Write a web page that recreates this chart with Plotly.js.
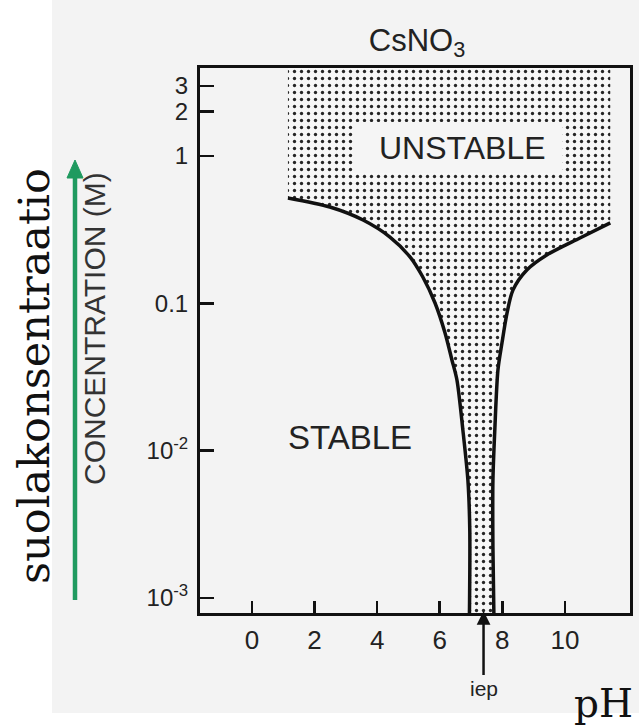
<!DOCTYPE html>
<html>
<head>
<meta charset="utf-8">
<script src="https://cdn.plot.ly/plotly-3.0.1.min.js"></script>
<style>html,body{margin:0;padding:0;background:#fff;}#chart{width:639px;height:725px;}</style>
</head>
<body>
<div id="chart"></div>
<script>
// ---- data ----
const pHLeft   = [1.15, 2.49, 3.55, 4.41, 5.05, 5.46, 5.85, 6.17, 6.39, 6.55, 6.74, 6.9, 6.96, 6.95];
const concLeft = [0.52, 0.451, 0.368, 0.282, 0.207, 0.151, 0.1006, 0.063, 0.0413, 0.0302, 0.0138, 0.0063, 0.0029, 0.00079];
const pHRight   = [7.73, 7.7, 7.7, 7.76, 7.86, 7.99, 8.15, 8.34, 8.79, 9.42, 10.48, 11.45];
const concRight = [0.00079, 0.0022, 0.0063, 0.0138, 0.0353, 0.054, 0.086, 0.123, 0.169, 0.213, 0.278, 0.352];
const concTop = 3.96;
const xTickVals = [0, 2, 4, 6, 8, 10];
const yTickVals = [0.001, 0.01, 0.1, 1, 2, 3];
const yTickText = ['10<sup>-3</sup>', '10<sup>-2</sup>', '0.1', '1', '2', '3'];
const iepPH = 7.4;

// ---- layout helpers (pixel -> paper) ----
const L = 200, R = 630, T = 68, B = 613;
const xp = px => (px - L) / (R - L);
const yp = py => (B - py) / (B - T);

const fillX = [pHLeft[0]].concat(pHLeft, pHRight, [pHRight[pHRight.length - 1], pHLeft[0]]);
const fillY = [concTop].concat(concLeft, concRight, [concTop, concTop]);

const traces = [
  {
    x: fillX, y: fillY, mode: 'lines', fill: 'toself',
    line: {width: 0},
    fillcolor: 'rgba(0,0,0,0)',
    fillpattern: {shape: '.', size: 7, solidity: 0.18, fgcolor: '#262626', bgcolor: '#f7f7f7'},
    hoverinfo: 'skip', showlegend: false
  },
  {
    x: pHLeft, y: concLeft, mode: 'lines',
    line: {color: '#111', width: 3.5, shape: 'spline', smoothing: 0.8},
    showlegend: false
  },
  {
    x: pHRight, y: concRight, mode: 'lines',
    line: {color: '#111', width: 3.5, shape: 'spline', smoothing: 0.8},
    showlegend: false
  }
];

const sans = 'Liberation Sans, Arial, sans-serif';

const layout = {
  width: 639, height: 725,
  margin: {l: L, r: 639 - R, t: T, b: 725 - B, pad: 0},
  paper_bgcolor: '#ffffff',
  plot_bgcolor: 'rgba(0,0,0,0)',
  showlegend: false,
  title: {
    text: 'CsNO<sub>3</sub>',
    font: {family: sans, size: 31, color: '#222'},
    xref: 'paper', x: xp(417), xanchor: 'center',
    yref: 'container', y: 1 - 40 / 725, yanchor: 'middle'
  },
  xaxis: {
    range: [-1.66, 12.08], tickvals: xTickVals, ticks: 'inside', ticklen: 12, tickwidth: 2.5,
    tickcolor: '#111', showline: true, linewidth: 3, linecolor: '#111', mirror: true,
    showgrid: false, zeroline: false, tickfont: {family: sans, size: 26, color: '#222'},
    ticklabelstandoff: 2
  },
  yaxis: {
    type: 'log', range: [-3.102, 0.598], tickvals: yTickVals, ticktext: yTickText,
    ticks: 'inside', ticklen: 14, tickwidth: 2.5, tickcolor: '#111',
    showline: true, linewidth: 3, linecolor: '#111', mirror: true,
    showgrid: false, zeroline: false,
    tickfont: {family: sans, size: 24, color: '#222'},
    ticklabelstandoff: 4
  },
  shapes: [
    {type: 'rect', xref: 'paper', yref: 'paper', x0: xp(52), x1: xp(639), y0: yp(713), y1: yp(0),
     fillcolor: '#f3f3f3', line: {width: 0}, layer: 'below'},
    {type: 'rect', xref: 'paper', yref: 'paper', x0: xp(353), x1: xp(562), y0: yp(173), y1: yp(122),
     fillcolor: '#f5f5f5', line: {width: 0}, layer: 'above'},
    {type: 'line', xref: 'paper', yref: 'paper', x0: xp(75), x1: xp(75), y0: yp(600), y1: yp(174),
     line: {color: '#1f9a5f', width: 4.5}},
    {type: 'path', xref: 'paper', yref: 'paper',
     path: 'M' + xp(75) + ',' + yp(160) + ' L' + xp(67) + ',' + yp(178) + ' L' + xp(83) + ',' + yp(178) + ' Z',
     fillcolor: '#1f9a5f', line: {color: '#1f9a5f', width: 1}}
  ],
  annotations: [
    {text: 'UNSTABLE', xref: 'paper', yref: 'paper', x: xp(462), y: yp(148),
     xanchor: 'center', yanchor: 'middle', showarrow: false,
     font: {family: sans, size: 32, color: '#222'}},
    {text: 'STABLE', xref: 'paper', yref: 'paper', x: xp(350), y: yp(437),
     xanchor: 'center', yanchor: 'middle', showarrow: false,
     font: {family: sans, size: 33, color: '#222'}},
    {text: 'CONCENTRATION (M)', xref: 'paper', yref: 'paper', x: xp(94), y: yp(329), textangle: -90,
     xanchor: 'center', yanchor: 'middle', showarrow: false,
     font: {family: sans, size: 30, color: '#333'}},
    {text: 'suolakonsentraatio', xref: 'paper', yref: 'paper', x: xp(34), y: yp(376), textangle: -90,
     xanchor: 'center', yanchor: 'middle', showarrow: false,
     font: {family: 'DejaVu Serif, serif', size: 43, color: '#111'}},
    {text: 'pH', xref: 'paper', yref: 'paper', x: xp(603), y: yp(703),
     xanchor: 'center', yanchor: 'middle', showarrow: false,
     font: {family: 'DejaVu Serif, serif', size: 39, color: '#111'}},
    {text: 'iep', xref: 'x', yref: 'paper', x: iepPH, y: yp(611), showarrow: true,
     ax: 0, ay: 77, arrowhead: 2, arrowsize: 1.1, arrowwidth: 2.5, arrowcolor: '#111',
     font: {family: sans, size: 21, color: '#222'}}
  ]
};

Plotly.newPlot('chart', traces, layout, {displayModeBar: false, staticPlot: true});
</script>
</body>
</html>
